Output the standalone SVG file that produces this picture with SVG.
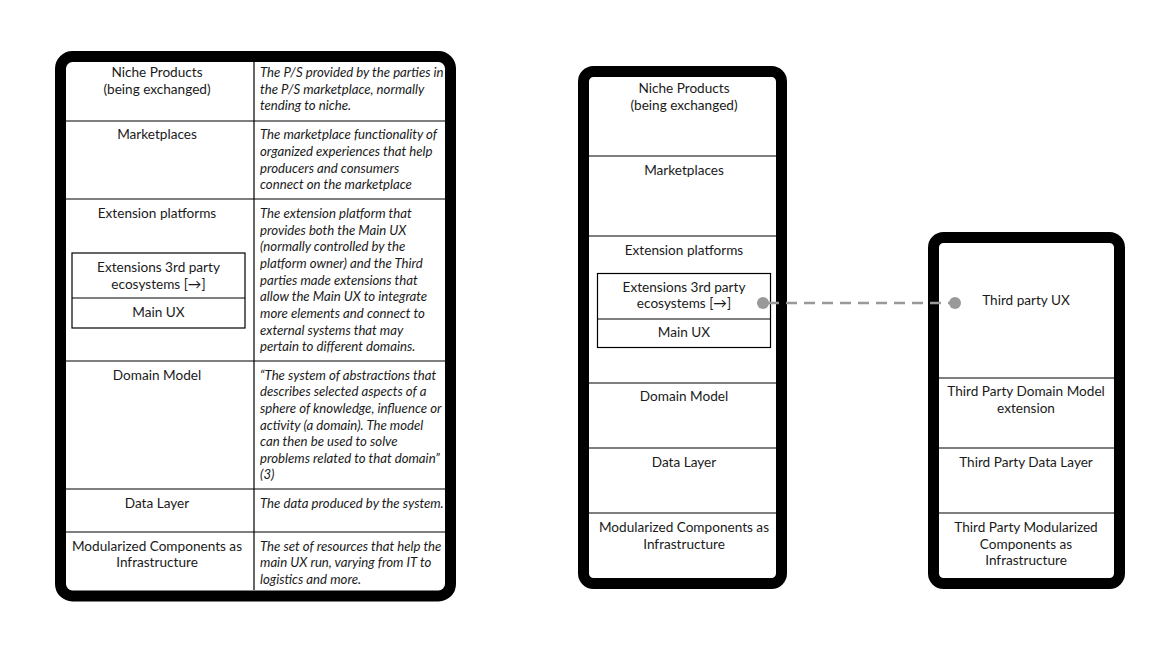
<svg xmlns="http://www.w3.org/2000/svg" width="1167" height="668" viewBox="0 0 1167 668">
<style>
.frame{fill:#fff;stroke:#000;stroke-width:11}
.ln{stroke:#000;stroke-width:1.2;fill:none}
.box{fill:#fff;stroke:#000;stroke-width:1.2}
text{font-family:Lato,"Liberation Sans",sans-serif;font-size:13.6px;fill:#1a1a1a}
.c{text-anchor:middle}
.i{font-style:italic;font-size:13.2px}
.conn{stroke:#999;stroke-width:2.5;stroke-dasharray:11 7;fill:none}
.dot{fill:#999}
</style>
<rect width="1167" height="668" fill="#fff"/>
<g id="table">
<rect class="frame" x="60.5" y="56.5" width="390" height="539.5" rx="12"/>
<line class="ln" x1="254" y1="62" x2="254" y2="590"/>
<line class="ln" x1="66" y1="121" x2="445" y2="121"/>
<line class="ln" x1="66" y1="199" x2="445" y2="199"/>
<line class="ln" x1="66" y1="361" x2="445" y2="361"/>
<line class="ln" x1="66" y1="489" x2="445" y2="489"/>
<line class="ln" x1="66" y1="532" x2="445" y2="532"/>
<text class="c" x="157" y="77">Niche Products</text>
<text class="c" x="157" y="94">(being exchanged)</text>
<text class="c" x="157" y="139">Marketplaces</text>
<text class="c" x="157" y="218">Extension platforms</text>
<g id="t-ext">
<rect class="box" x="72" y="253" width="173" height="75"/>
<line class="ln" x1="72" y1="298" x2="245" y2="298"/>
<text class="c" x="158.5" y="272">Extensions 3rd party</text>
<text class="c" x="158.5" y="289">ecosystems [→]</text>
<text class="c" x="158.5" y="317">Main UX</text>
</g>
<text class="c" x="157" y="380">Domain Model</text>
<text class="c" x="157" y="508">Data Layer</text>
<text class="c" x="157" y="551">Modularized Components as</text>
<text class="c" x="157" y="567">Infrastructure</text>
<g>
<text class="i" x="260" y="77">The P/S provided by the parties in</text>
<text class="i" x="260" y="94">the P/S marketplace, normally</text>
<text class="i" x="260" y="110">tending to niche.</text>
<text class="i" x="260" y="139">The marketplace functionality of</text>
<text class="i" x="260" y="156">organized experiences that help</text>
<text class="i" x="260" y="173">producers and consumers</text>
<text class="i" x="260" y="189">connect on the marketplace</text>
<text class="i" x="260" y="218">The extension platform that</text>
<text class="i" x="260" y="235">provides both the Main UX</text>
<text class="i" x="260" y="251">(normally controlled by the</text>
<text class="i" x="260" y="268">platform owner) and the Third</text>
<text class="i" x="260" y="285">parties made extensions that</text>
<text class="i" x="260" y="301">allow the Main UX to integrate</text>
<text class="i" x="260" y="318">more elements and connect to</text>
<text class="i" x="260" y="335">external systems that may</text>
<text class="i" x="260" y="351">pertain to different domains.</text>
<text class="i" x="260" y="380">“The system of abstractions that</text>
<text class="i" x="260" y="396">describes selected aspects of a</text>
<text class="i" x="260" y="413">sphere of knowledge, influence or</text>
<text class="i" x="260" y="430">activity (a domain). The model</text>
<text class="i" x="260" y="446">can then be used to solve</text>
<text class="i" x="260" y="463">problems related to that domain”</text>
<text class="i" x="260" y="479">(3)</text>
<text class="i" x="260" y="508">The data produced by the system.</text>
<text class="i" x="260" y="551">The set of resources that help the</text>
<text class="i" x="260" y="567">main UX run, varying from IT to</text>
<text class="i" x="260" y="584">logistics and more.</text>
</g>
</g>
<g id="platform">
<rect class="frame" x="583.5" y="71.5" width="198" height="512" rx="10"/>
<line class="ln" x1="589" y1="156" x2="776" y2="156"/>
<line class="ln" x1="589" y1="236" x2="776" y2="236"/>
<line class="ln" x1="589" y1="383" x2="776" y2="383"/>
<line class="ln" x1="589" y1="448" x2="776" y2="448"/>
<line class="ln" x1="589" y1="513" x2="776" y2="513"/>
<text class="c" x="684" y="93">Niche Products</text>
<text class="c" x="684" y="110">(being exchanged)</text>
<text class="c" x="684" y="175">Marketplaces</text>
<text class="c" x="684" y="255">Extension platforms</text>
<g id="p-ext">
<rect class="box" x="597.5" y="273.5" width="173" height="74"/>
<line class="ln" x1="597.5" y1="319" x2="770.5" y2="319"/>
<text class="c" x="684" y="292">Extensions 3rd party</text>
<text class="c" x="684" y="308">ecosystems [→]</text>
<text class="c" x="684" y="337">Main UX</text>
</g>
<text class="c" x="684" y="401">Domain Model</text>
<text class="c" x="684" y="467">Data Layer</text>
<text class="c" x="684" y="532">Modularized Components as</text>
<text class="c" x="684" y="549">Infrastructure</text>
</g>
<g id="thirdparty">
<rect class="frame" x="933.5" y="237.5" width="186" height="346" rx="10"/>
<line class="ln" x1="939" y1="378" x2="1114" y2="378"/>
<line class="ln" x1="939" y1="448" x2="1114" y2="448"/>
<line class="ln" x1="939" y1="513" x2="1114" y2="513"/>
<text class="c" x="1026" y="305">Third party UX</text>
<text class="c" x="1026" y="396">Third Party Domain Model</text>
<text class="c" x="1026" y="413">extension</text>
<text class="c" x="1026" y="467">Third Party Data Layer</text>
<text class="c" x="1026" y="532">Third Party Modularized</text>
<text class="c" x="1026" y="549">Components as</text>
<text class="c" x="1026" y="565">Infrastructure</text>
</g>
<g id="connectors">
<line class="conn" x1="768" y1="303" x2="950" y2="303"/>
<circle class="dot" cx="763" cy="303" r="6"/>
<circle class="dot" cx="955" cy="303" r="6"/>
</g>
</svg>
